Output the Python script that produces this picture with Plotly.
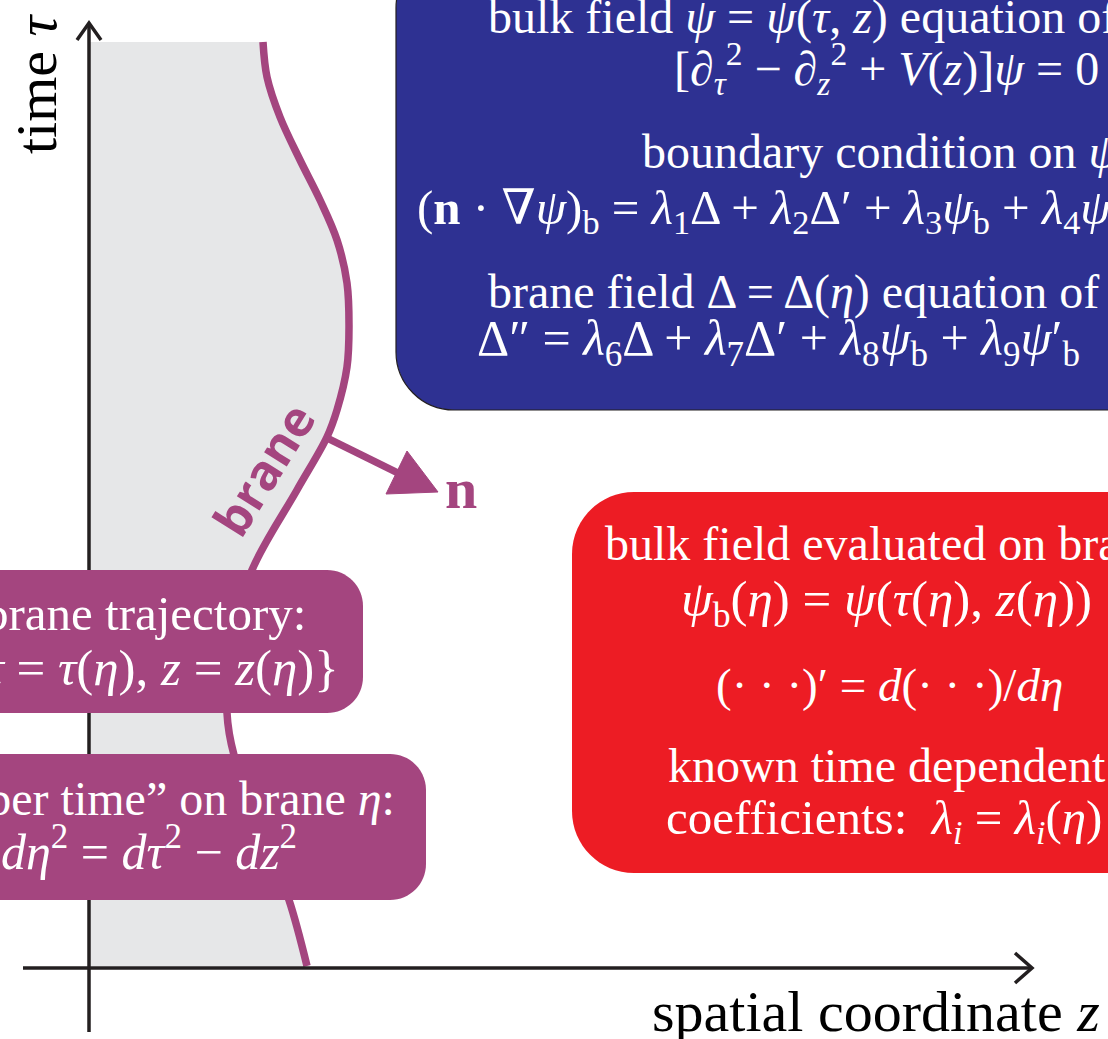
import plotly.graph_objects as go

W, H = 1108, 1039

# brane trajectory (pixel-space coordinates of the diagram)
brane_z = [263, 267, 280, 300, 320, 337, 347, 349, 347, 337, 327, 297, 252, 232, 227, 234, 262, 289, 307]
brane_t = [42, 77, 117, 160, 200, 240, 283, 327, 367, 410, 437, 490, 570, 640, 713, 755, 830, 900, 966]

BLUE = "#2E3192"
RED = "#ED1C24"
PURPLE = "#A4457F"
GRAY = "#E6E7E8"
DARK = "#231F20"
SERIF = "Liberation Serif, DejaVu Serif, serif"

blue_lines = [
    "bulk field <i>ψ</i> = <i>ψ</i>(<i>τ</i>, <i>z</i>) equation of motion:",
    "[∂<sub><i>τ</i></sub><sup>2</sup> − ∂<sub><i>z</i></sub><sup>2</sup> + <i>V</i>(<i>z</i>)]<i>ψ</i> = 0",
    "boundary condition on <i>ψ</i><sub>b</sub>:",
    "(<b>n</b> · ∇<i>ψ</i>)<sub>b</sub> = <i>λ</i><sub>1</sub>Δ + <i>λ</i><sub>2</sub>Δ′ + <i>λ</i><sub>3</sub><i>ψ</i><sub>b</sub> + <i>λ</i><sub>4</sub><i>ψ</i>′<sub>b</sub> + <i>λ</i><sub>5</sub>",
    "brane field Δ = Δ(<i>η</i>) equation of motion:",
    "Δ″ = <i>λ</i><sub>6</sub>Δ + <i>λ</i><sub>7</sub>Δ′ + <i>λ</i><sub>8</sub><i>ψ</i><sub>b</sub> + <i>λ</i><sub>9</sub><i>ψ</i>′<sub>b</sub>",
]
red_lines = [
    "bulk field evaluated on brane:",
    "<i>ψ</i><sub>b</sub>(<i>η</i>) = <i>ψ</i>(<i>τ</i>(<i>η</i>), <i>z</i>(<i>η</i>))",
    "(· · ·)′ = <i>d</i>(· · ·)/<i>dη</i>",
    "known time dependent",
    "coefficients:  <i>λ<sub>i</sub></i> = <i>λ<sub>i</sub></i>(<i>η</i>)",
]
purple1_lines = [
    "brane trajectory:",
    "{<i>τ</i> = <i>τ</i>(<i>η</i>), <i>z</i> = <i>z</i>(<i>η</i>)}",
]
purple2_lines = [
    "“proper time” on brane <i>η</i>:",
    "<i>dη</i><sup>2</sup> = <i>dτ</i><sup>2</sup> − <i>dz</i><sup>2</sup>",
]
xlabel = "spatial coordinate <i>z</i>"
ylabel = "time <i>τ</i>"


def rrect(x0, y0, x1, y1, r):
    k = 0.5523 * r
    return (
        f"M {x0 + r} {y0} L {x1 - r} {y0} "
        f"C {x1 - r + k} {y0} {x1} {y0 + r - k} {x1} {y0 + r} "
        f"L {x1} {y1 - r} "
        f"C {x1} {y1 - r + k} {x1 - r + k} {y1} {x1 - r} {y1} "
        f"L {x0 + r} {y1} "
        f"C {x0 + r - k} {y1} {x0} {y1 - r + k} {x0} {y1 - r} "
        f"L {x0} {y0 + r} "
        f"C {x0} {y0 + r - k} {x0 + r - k} {y0} {x0 + r} {y0} Z"
    )


fig = go.Figure()
# gray bulk region + brane line
fig.add_trace(go.Scatter(x=brane_z, y=brane_t, mode="lines", fill="tozerox",
                         fillcolor=GRAY, line=dict(color="rgba(0,0,0,0)", width=0, shape="spline", smoothing=1.0),
                         hoverinfo="skip", showlegend=False))
fig.add_trace(go.Scatter(x=brane_z, y=brane_t, mode="lines",
                         line=dict(color=PURPLE, width=7.5, shape="spline", smoothing=1.0),
                         hoverinfo="skip", showlegend=False))

shapes = []
# mask left of the time axis
shapes.append(dict(type="rect", x0=-20, x1=89, y0=-20, y1=H + 20, fillcolor="white", line=dict(width=0)))
# axes
shapes.append(dict(type="line", x0=89, x1=89, y0=1032, y1=23, line=dict(color=DARK, width=3.5)))
shapes.append(dict(type="line", x0=23, x1=1031, y0=968, y1=968, line=dict(color=DARK, width=3.5)))
shapes.append(dict(type="path", path="M 77 40 L 89 23 L 101 40", line=dict(color=DARK, width=3.5)))
shapes.append(dict(type="path", path="M 1015 953 L 1032 968 L 1015 983", line=dict(color=DARK, width=3.5)))
# normal vector n
shapes.append(dict(type="line", x0=327, y0=438, x1=400, y1=474, line=dict(color=PURPLE, width=7.5)))
shapes.append(dict(type="path", path="M 438 492 L 386 494 L 407 451 Z", fillcolor=PURPLE, line=dict(color=PURPLE, width=1)))
# boxes
shapes.append(dict(type="path", path=rrect(396, -50, 1250, 410, 58), fillcolor=BLUE, line=dict(color=DARK, width=1.2)))
shapes.append(dict(type="path", path=rrect(572, 492, 1250, 873, 62), fillcolor=RED, line=dict(width=0)))
shapes.append(dict(type="path", path=rrect(-100, 570, 363, 713, 36), fillcolor=PURPLE, line=dict(width=0)))
shapes.append(dict(type="path", path=rrect(-100, 754, 426, 900, 36), fillcolor=PURPLE, line=dict(width=0)))

ann = []


def txt(s, x, y, anchor="center", size=48, color="white", family=SERIF, angle=0, weight=None):
    f = dict(family=family, size=size, color=color)
    if weight:
        f["weight"] = weight
    ann.append(dict(text=s, x=x, y=y, xref="x", yref="y", xanchor=anchor, yanchor="middle",
                    showarrow=False, textangle=angle, font=f))


blue_pos = [(486, 17, "left", 48), (886, 68, "center", 48), (640, 155, "left", 48),
            (415, 210, "left", 49), (486, 292, "left", 48), (475, 342, "left", 50)]
for s, (x, y, a, fs) in zip(blue_lines, blue_pos):
    txt(s, x, y, a, fs)

red_pos = [(603, 543, "left", 48), (886, 603, "center", 51), (889, 685, "center", 47),
           (887, 765, "center", 48), (884, 820, "center", 49)]
for s, (x, y, a, fs) in zip(red_lines, red_pos):
    txt(s, x, y, a, fs)

for s, (x, y, fs) in zip(purple1_lines, [(308, 613, 49), (341, 668, 51)]):
    txt(s, x, y, "right", fs)
for s, (x, y, fs) in zip(purple2_lines, [(397, 798, 48), (299, 848, 50)]):
    txt(s, x, y, "right", fs)

txt(xlabel, 1102, 1011, "right", size=58, color="black")
txt(ylabel, 36, 84, "center", size=58, color="black", angle=-90)
txt("<b>brane</b>", 263, 469, "center", size=49, color=PURPLE,
    family="Open Sans, Liberation Sans, sans-serif", angle=-58, weight=700)
txt("<b>n</b>", 461, 488, "center", size=58, color=PURPLE)

fig.update_layout(
    width=W, height=H, margin=dict(l=0, r=0, t=0, b=0),
    paper_bgcolor="white", plot_bgcolor="white",
    xaxis=dict(range=[0, W], visible=False, fixedrange=True),
    yaxis=dict(range=[H, 0], visible=False, fixedrange=True),
    shapes=shapes, annotations=ann, showlegend=False,
)

fig.write_html("out.html", config={"displayModeBar": False},
               post_script="document.body.style.margin='0';document.body.style.overflow='hidden';")
